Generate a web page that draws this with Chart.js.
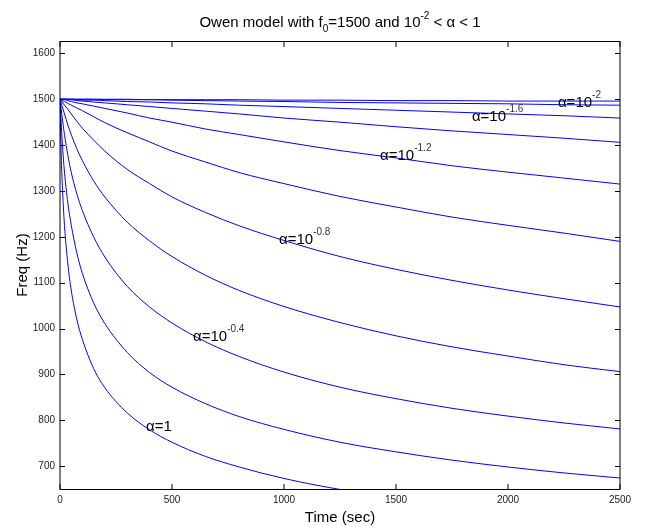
<!DOCTYPE html>
<html>
<head>
<meta charset="utf-8">
<script src="https://cdn.jsdelivr.net/npm/chart.js@4.4.1/dist/chart.umd.min.js"></script>
<style>
  html, body { margin: 0; padding: 0; background: #fff; }
  canvas { display: block; }
</style>
</head>
<body>
<canvas id="myChart" width="657" height="527"></canvas>
<script>
// Time samples (sec), shared by all the curves
var timeSec = [0, 2, 5, 10, 20, 35, 50, 75, 100, 150, 200, 300, 400, 500, 650, 800, 1000, 1250, 1500, 1750, 2000, 2250, 2500];

// Freq (Hz), alpha = 10^-2 ... 10^0
var freqA2   = [1500, 1500, 1500, 1500, 1500, 1500, 1500, 1500, 1500, 1500, 1500, 1500, 1499, 1499, 1499, 1499, 1498, 1498, 1497, 1497, 1496, 1496, 1496];
var freqA18  = [1500, 1500, 1500, 1500, 1500, 1500, 1500, 1500, 1500, 1500, 1499, 1499, 1499, 1498, 1497, 1496, 1495, 1493, 1492, 1491, 1490, 1488, 1487];
var freqA16  = [1500, 1500, 1500, 1500, 1500, 1500, 1500, 1499, 1498, 1498, 1497, 1495, 1494, 1492, 1490, 1487, 1484, 1480, 1476, 1472, 1468, 1464, 1459];
var freqA14  = [1500, 1500, 1500, 1500, 1500, 1499, 1499, 1497, 1496, 1494, 1492, 1488, 1484, 1480, 1474, 1468, 1459, 1450, 1440, 1431, 1423, 1415, 1406];
var freqA12  = [1500, 1500, 1500, 1499, 1499, 1497, 1495, 1492, 1490, 1485, 1480, 1470, 1459, 1450, 1435, 1423, 1407, 1388, 1372, 1355, 1341, 1328, 1315];
var freqA10  = [1500, 1500, 1499, 1497, 1495, 1491, 1487, 1481, 1475, 1462, 1449, 1427, 1407, 1387, 1363, 1340, 1316, 1288, 1265, 1243, 1225, 1208, 1190];
var freqA08  = [1500, 1499, 1497, 1494, 1487, 1478, 1468, 1452, 1437, 1411, 1387, 1347, 1316, 1287, 1253, 1224, 1192, 1157, 1129, 1105, 1084, 1065, 1047];
var freqA06  = [1500, 1497, 1492, 1484, 1468, 1444, 1423, 1392, 1366, 1322, 1287, 1232, 1191, 1157, 1116, 1083, 1048, 1013, 984, 960, 940, 921, 906];
var freqA04  = [1500, 1492, 1480, 1459, 1423, 1378, 1341, 1294, 1257, 1200, 1156, 1092, 1047, 1012, 971, 939, 905, 872, 847, 826, 809, 794, 781];
var freqA02  = [1500, 1480, 1450, 1407, 1341, 1274, 1226, 1165, 1120, 1056, 1011, 948, 904, 872, 836, 808, 780, 752, 731, 713, 698, 685, 674];
var freqA0   = [1500, 1449, 1387, 1316, 1225, 1141, 1084, 1020, 976, 913, 871, 816, 779, 752, 721, 698, 673, 649, 631];

var allFreqs = [freqA2, freqA18, freqA16, freqA14, freqA12, freqA10, freqA08, freqA06, freqA04, freqA02, freqA0];

// tick labels
var xTicks = [0, 500, 1000, 1500, 2000, 2500];
var yTicks = [700, 800, 900, 1000, 1100, 1200, 1300, 1400, 1500, 1600];

// in-plot alpha labels (anchor in data units: time, freq)
var labelTime = [2223, 1839, 1429, 978, 594, 384];
var labelFreq = [1483, 1452, 1367, 1185, 973, 776];
var labelExp  = ["-2", "-1.6", "-1.2", "-0.8", "-0.4", ""];

var FONT = '"Liberation Sans", Arial, Helvetica, sans-serif';

function toPoints(values) {
  return values.map(function (v, i) { return { x: timeSec[i], y: v }; });
}

var datasets = allFreqs.map(function (vals) {
  return {
    data: toPoints(vals),
    borderColor: "#0000ff",
    borderWidth: 1,
    pointRadius: 0,
    fill: false,
    cubicInterpolationMode: "monotone"
  };
});

// draws text pieces with sub/superscripts, starting at x, baseline y
function drawPieces(ctx, pieces, x, y) {
  pieces.forEach(function (p) {
    ctx.font = p.size + "px " + FONT;
    ctx.fillStyle = p.color || "#000";
    ctx.fillText(p.text, x, y + (p.dy || 0));
    x += ctx.measureText(p.text).width + (p.gap || 0);
  });
}
function piecesWidth(ctx, pieces) {
  var w = 0;
  pieces.forEach(function (p) {
    ctx.font = p.size + "px " + FONT;
    w += ctx.measureText(p.text).width + (p.gap || 0);
  });
  return w;
}

var matlabFrame = {
  id: "matlabFrame",
  afterDatasetsDraw: function (chart) {
    var ctx = chart.ctx;
    var a = chart.chartArea;
    var xs = chart.scales.x, ys = chart.scales.y;
    ctx.save();
    ctx.strokeStyle = "#000";
    ctx.lineWidth = 1;

    // box
    ctx.beginPath();
    ctx.moveTo(a.left, a.top + 0.5);
    ctx.lineTo(a.right, a.top + 0.5);
    ctx.moveTo(a.left, a.bottom + 0.5);
    ctx.lineTo(a.right, a.bottom + 0.5);
    ctx.moveTo(a.left, a.top);
    ctx.lineTo(a.left, a.bottom + 1);
    ctx.moveTo(a.right, a.top);
    ctx.lineTo(a.right, a.bottom + 1);
    ctx.stroke();

    // inward ticks
    ctx.beginPath();
    xTicks.forEach(function (v) {
      var px = Math.round(xs.getPixelForValue(v));
      ctx.moveTo(px, a.bottom);
      ctx.lineTo(px, a.bottom - 5);
      ctx.moveTo(px, a.top + 1);
      ctx.lineTo(px, a.top + 6);
    });
    yTicks.forEach(function (v) {
      var py = Math.round(ys.getPixelForValue(v)) + 0.5;
      ctx.moveTo(a.left, py);
      ctx.lineTo(a.left + 5, py);
      ctx.moveTo(a.right, py);
      ctx.lineTo(a.right - 5, py);
    });
    ctx.stroke();

    // alpha labels on the curves
    ctx.textAlign = "left";
    ctx.textBaseline = "alphabetic";
    labelTime.forEach(function (t, i) {
      var px = xs.getPixelForValue(t);
      var py = ys.getPixelForValue(labelFreq[i]);
      var pieces;
      if (labelExp[i]) {
        pieces = [
          { text: "\u03b1=10", size: 15 },
          { text: labelExp[i], size: 10, dy: -9, color: "#333" }
        ];
      } else {
        pieces = [{ text: "\u03b1=1", size: 15 }];
      }
      drawPieces(ctx, pieces, px, py);
    });
    ctx.restore();
  },
  afterDraw: function (chart) {
    var ctx = chart.ctx;
    var a = chart.chartArea;
    var cx = (a.left + a.right) / 2;
    ctx.save();
    ctx.textAlign = "left";
    ctx.textBaseline = "alphabetic";

    // title
    var title = [
      { text: "Owen model with f", size: 15 },
      { text: "0", size: 10, dy: 5 },
      { text: "=1500 and 10", size: 15 },
      { text: "-2", size: 10, dy: -8 },
      { text: " < \u03b1 < 1", size: 15 }
    ];
    drawPieces(ctx, title, cx - piecesWidth(ctx, title) / 2, 27);

    // axis titles
    ctx.font = "15px " + FONT;
    ctx.fillStyle = "#000";
    ctx.textAlign = "center";
    ctx.fillText("Time (sec)", cx, 522);
    ctx.translate(27, (a.top + a.bottom) / 2);
    ctx.rotate(-Math.PI / 2);
    ctx.fillText("Freq (Hz)", 0, 0);
    ctx.restore();
  }
};

var ctx = document.getElementById("myChart").getContext("2d");

var myChart = new Chart(ctx, {
  type: "line",
  data: { datasets: datasets },
  options: {
    responsive: false,
    animation: false,
    devicePixelRatio: 1,
    layout: { padding: { left: 0, top: 41, right: 37, bottom: 0 } },
    plugins: {
      legend: { display: false },
      title: { display: false },
      tooltip: { enabled: false }
    },
    scales: {
      x: {
        type: "linear",
        min: 0,
        max: 2500,
        grid: { display: false, drawTicks: false },
        border: { display: false },
        afterBuildTicks: function (s) { s.ticks = xTicks.map(function (v) { return { value: v }; }); },
        afterFit: function (s) { s.height = 38; },
        ticks: {
          padding: 5,
          color: "#222",
          font: { family: FONT, size: 10 },
          maxRotation: 0,
          callback: function (v) { return String(v); }
        }
      },
      y: {
        type: "linear",
        min: 650,
        max: 1627,
        grid: { display: false, drawTicks: false },
        border: { display: false },
        afterBuildTicks: function (s) { s.ticks = yTicks.map(function (v) { return { value: v }; }); },
        afterFit: function (s) { s.width = 60; },
        ticks: {
          padding: 5,
          color: "#222",
          font: { family: FONT, size: 10 },
          callback: function (v) { return String(v); }
        }
      }
    }
  },
  plugins: [matlabFrame]
});
</script>
</body>
</html>
